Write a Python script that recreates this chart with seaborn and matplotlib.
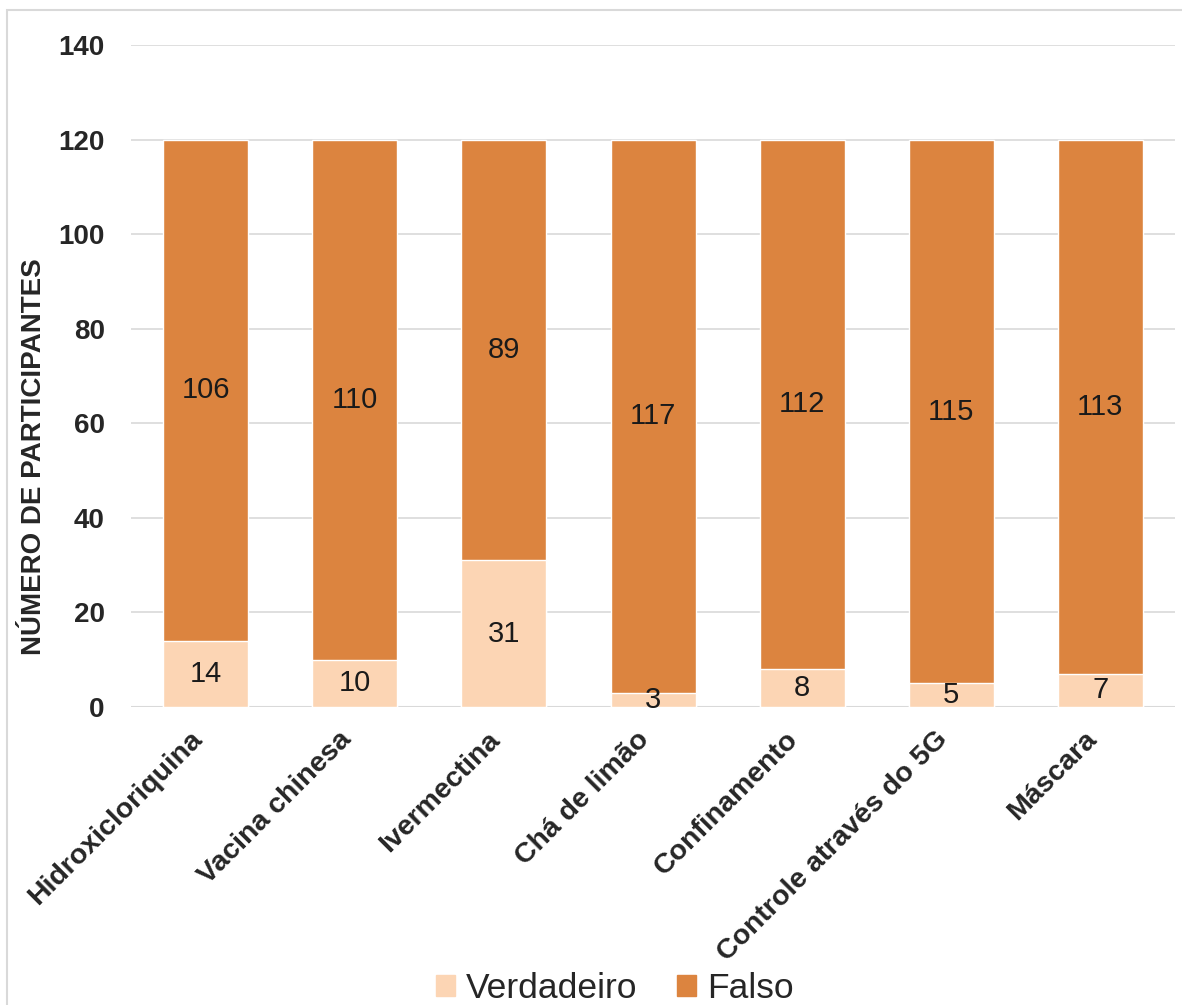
import matplotlib
matplotlib.use("Agg")
import matplotlib.pyplot as plt
from matplotlib import font_manager
from matplotlib.patches import Rectangle
from matplotlib.transforms import ScaledTranslation
import seaborn as sns
import pandas as pd

categorias = ["Hidroxicloriquina", "Vacina chinesa", "Ivermectina", "Chá de limão",
              "Confinamento", "Controle através do 5G", "Máscara"]
verdadeiro = [14, 10, 31, 3, 8, 5, 7]
falso = [106, 110, 89, 117, 112, 115, 113]
y_ticks = [0, 20, 40, 60, 80, 100, 120, 140]

cor_verdadeiro = "#FCD5B4"
cor_falso = "#DC843F"

sns.set_theme(style="white")
plt.rcParams["font.family"] = ["Liberation Sans", "DejaVu Sans"]

names = {f.name for f in font_manager.fontManager.ttflist}
has_narrow = "Liberation Sans Narrow" in names
narrow = "Liberation Sans Narrow" if has_narrow else "Liberation Sans"

df = pd.DataFrame({"categoria": categorias, "Verdadeiro": verdadeiro, "Falso": falso})
df["total"] = df["Verdadeiro"] + df["Falso"]

fig = plt.figure(figsize=(11.82, 10.05), dpi=100)
ax = fig.add_axes([0.111, 0.2965, 0.883, 0.6585])

# Stacked bars: total drawn first (Falso colour), Verdadeiro on top from zero
sns.barplot(data=df, x="categoria", y="total", color=cor_falso, width=0.57,
            saturation=1, ax=ax, zorder=2)
sns.barplot(data=df, x="categoria", y="Verdadeiro", color=cor_verdadeiro, width=0.57,
            saturation=1, ax=ax, zorder=3)

for i, (v, f) in enumerate(zip(verdadeiro, falso)):
    ax.text(i, v / 2, str(v), ha="center", va="center", fontsize=21, color="#1a1a1a", zorder=4)
    ax.text(i, v + f / 2, str(f), ha="center", va="center", fontsize=21, color="#1a1a1a", zorder=4)

ax.set_ylim(0, 140)
ax.set_xlim(-0.5, len(categorias) - 0.5)
ax.set_yticks(y_ticks)
ax.set_yticklabels([str(t) for t in y_ticks], fontsize=20, fontweight="bold")
ax.yaxis.grid(True, color="#D9D9D9", linewidth=1.2, zorder=0)
ax.set_axisbelow(True)
for s in ax.spines.values():
    s.set_visible(False)
ax.axhline(0, color="#D9D9D9", linewidth=1.5, zorder=1)
ax.tick_params(axis="y", length=0, pad=19)
ax.tick_params(axis="x", length=0, pad=12)

ax.set_xticks(range(len(categorias)))
ax.set_xticklabels(categorias, rotation=45, ha="right", rotation_mode="anchor",
                   fontsize=20.5, fontweight="bold")
shift = ScaledTranslation(-12 / 72, -2 / 72, fig.dpi_scale_trans)
for lbl in ax.get_xticklabels():
    lbl.set_transform(lbl.get_transform() + shift)

ax.set_xlabel("")
ax.set_ylabel("NÚMERO DE PARTICIPANTES", fontsize=23 if has_narrow else 20, fontweight="bold",
              family=[narrow, "DejaVu Sans"])
ax.yaxis.set_label_coords(-0.081, 0.379)

handles = [Rectangle((0, 0), 1, 1, color=cor_verdadeiro), Rectangle((0, 0), 1, 1, color=cor_falso)]
fig.legend(handles, ["Verdadeiro", "Falso"], loc="lower center", bbox_to_anchor=(0.52, -0.032),
           ncol=2, frameon=False, handlelength=0.55, handleheight=0.55, handletextpad=0.3,
           columnspacing=1.1, prop={"family": [narrow, "DejaVu Sans"], "size": 29 if has_narrow else 25.5})

# Chart frame
fig.add_artist(Rectangle((0.006, -0.01), 1.2, 1.0, transform=fig.transFigure,
                         fill=False, edgecolor="#D9D9D9", linewidth=1.5))

fig.savefig("out.png", dpi=100)
